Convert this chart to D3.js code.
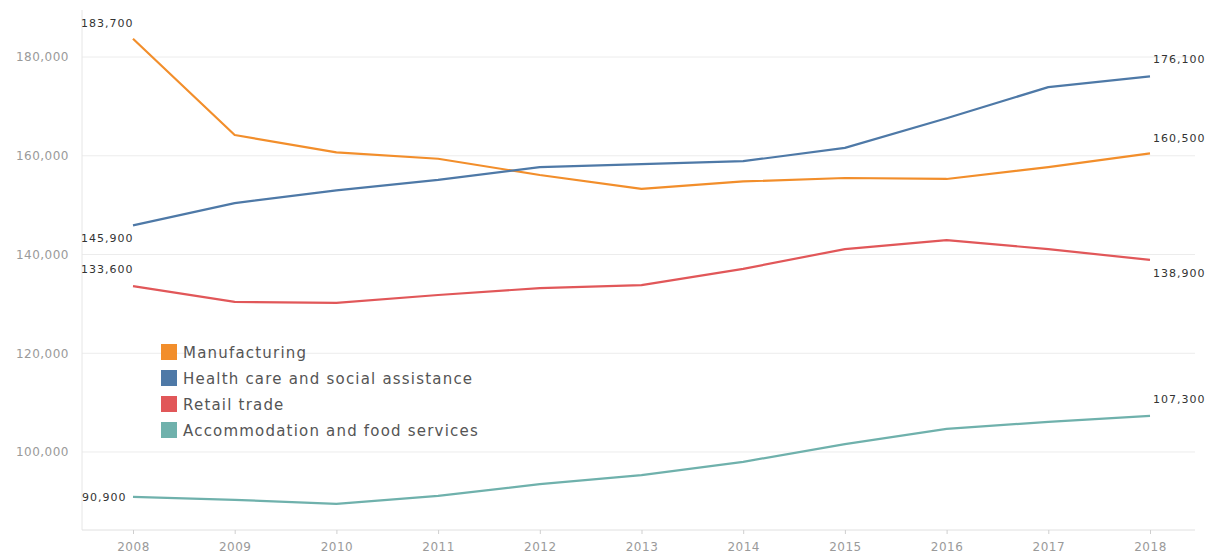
<!DOCTYPE html>
<html>
  <head>
    <meta charset="utf-8">
    <script src="https://d3js.org/d3.v7.min.js"></script>
    <style>
      body { margin: 0; background: #fff; }
      svg { font-family: "DejaVu Sans", Arial, sans-serif; }
    </style>
  </head>
  <body>
    <div id="chart"></div>
    <script>
      // data
      const years = [2008, 2009, 2010, 2011, 2012, 2013, 2014, 2015, 2016, 2017, 2018];
      const seriesNames = ["Manufacturing", "Health care and social assistance", "Retail trade", "Accommodation and food services"];
      const manufacturing = [183700, 164200, 160700, 159400, 156100, 153300, 154800, 155500, 155300, 157700, 160500];
      const healthCare = [145900, 150400, 153000, 155100, 157700, 158300, 158900, 161600, 167600, 173900, 176100];
      const retail = [133600, 130400, 130200, 131800, 133200, 133800, 137100, 141100, 142900, 141100, 138900];
      const accommodation = [90900, 90300, 89500, 91100, 93500, 95300, 98000, 101600, 104700, 106100, 107300];
      const yTicks = [100000, 120000, 140000, 160000, 180000];

      const colors = ["#f28e2b", "#4e79a7", "#e15759", "#6fb1ac"];
      const allValues = [manufacturing, healthCare, retail, accommodation];

      const width = 1217, height = 559;
      const svg = d3.select("#chart").append("svg")
        .attr("width", width)
        .attr("height", height);

      const x = d3.scaleLinear().domain([2008, 2018]).range([133, 1150]);
      const y = d3.scaleLinear().domain([84200, 187500]).range([530, 20]);

      // gridlines
      svg.append("g")
        .selectAll("line")
        .data(yTicks)
        .enter().append("line")
        .attr("x1", 82).attr("x2", 1195)
        .attr("y1", d => y(d)).attr("y2", d => y(d))
        .attr("stroke", "#ececec")
        .attr("stroke-width", 1);

      // left axis
      const yAxis = d3.axisLeft(y).tickValues(yTicks).tickSize(0).tickPadding(13)
        .tickFormat(d3.format(","));
      svg.append("g")
        .attr("transform", "translate(82,0)")
        .call(yAxis)
        .call(g => g.select(".domain").attr("stroke", "#e6e6e6").attr("d", "M0,10V530"))
        .call(g => g.selectAll("text").attr("fill", "#9a9a9a")
          .style("font-family", "'DejaVu Sans', sans-serif")
          .style("font-size", "12px").style("letter-spacing", "0.5px"));

      // bottom axis
      const xAxis = d3.axisBottom(x).tickValues(years).tickSize(4).tickPadding(8)
        .tickFormat(d3.format("d"));
      svg.append("g")
        .attr("transform", "translate(0,530)")
        .call(xAxis)
        .call(g => g.select(".domain").attr("stroke", "#e0e0e0").attr("d", "M82,0H1195"))
        .call(g => g.selectAll(".tick line").attr("stroke", "#cfcfcf"))
        .call(g => g.selectAll("text").attr("fill", "#9a9a9a")
          .style("font-family", "'DejaVu Sans', sans-serif")
          .style("font-size", "12px").style("letter-spacing", "0.5px"));

      // lines
      const line = d3.line()
        .x((d, i) => x(years[i]))
        .y(d => y(d));

      svg.append("g")
        .selectAll("path")
        .data(allValues)
        .enter().append("path")
        .attr("d", d => line(d))
        .attr("fill", "none")
        .attr("stroke", (d, i) => colors[i])
        .attr("stroke-width", 2.2)
        .attr("stroke-linejoin", "round");

      // start / end labels
      const fmt = d3.format(",");
      const last = years.length - 1;
      const labels = [
        // [value, year, dx, dy]
        [manufacturing[0], years[0], -52, -12],
        [healthCare[0], years[0], -52, 17],
        [retail[0], years[0], -52, -13],
        [accommodation[0], years[0], -51, 4],
        [manufacturing[last], years[last], 3, -11],
        [healthCare[last], years[last], 3, -13],
        [retail[last], years[last], 3, 17],
        [accommodation[last], years[last], 3, -13]
      ];
      svg.append("g")
        .selectAll("text")
        .data(labels)
        .enter().append("text")
        .attr("x", d => x(d[1]) + d[2])
        .attr("y", d => y(d[0]) + d[3])
        .attr("fill", "#333")
        .style("font-size", "11px")
        .style("letter-spacing", "1px")
        .text(d => fmt(d[0]));

      // legend
      const legend = svg.append("g").attr("transform", "translate(161,344)");
      const item = legend.selectAll("g")
        .data(seriesNames)
        .enter().append("g")
        .attr("transform", (d, i) => `translate(0,${i * 26})`);
      item.append("rect")
        .attr("width", 16).attr("height", 16)
        .attr("fill", (d, i) => colors[i]);
      item.append("text")
        .attr("x", 22).attr("y", 14)
        .attr("fill", "#555")
        .style("font-size", "15px")
        .style("letter-spacing", "1.2px")
        .text(d => d);
    </script>
  </body>
</html>
